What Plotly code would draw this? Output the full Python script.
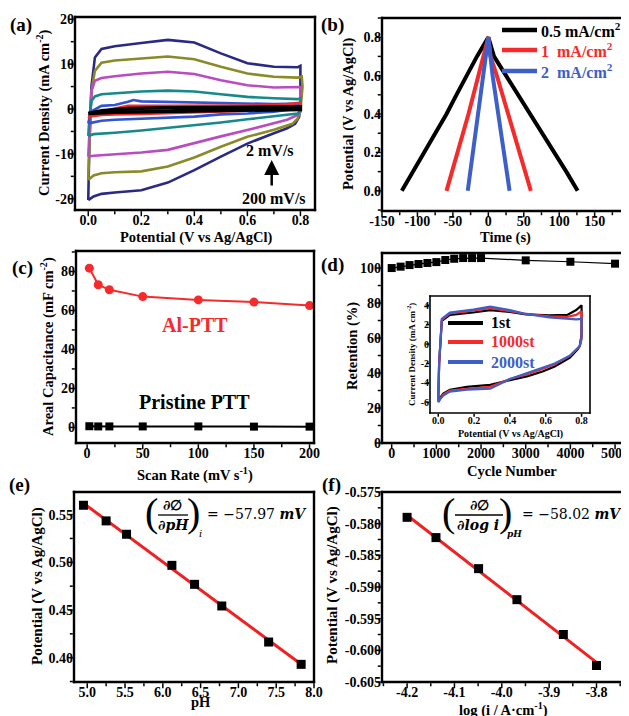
import numpy as np
import plotly.graph_objects as go

# screen geometry: the page body adds an 8 px offset, so the figure is drawn 8 px smaller
SW, SH = 629, 716
OFF = 8
W, H = SW - OFF, SH - OFF
FONT = "Liberation Serif"

# ---------------- (a) CV curves (closed loops: forward then reverse) ----------------
cv200_v = [0.0, 0.004, 0.012, 0.025, 0.05, 0.1, 0.2, 0.3, 0.4, 0.5, 0.6, 0.7, 0.79, 0.8,
           0.8, 0.795, 0.78, 0.75, 0.7, 0.6, 0.5, 0.4, 0.3, 0.2, 0.1, 0.05, 0.02, 0.005, 0.0]
cv200_i = [-20.3, -8.0, 5.0, 11.5, 13.4, 14.0, 14.7, 15.4, 14.8, 12.4, 10.2, 9.4, 9.3, 9.6,
           1.0, -1.8, -3.3, -4.3, -5.4, -7.7, -10.6, -13.6, -16.4, -18.1, -18.6, -18.9, -19.5, -20.0, -20.3]
cv150_v = [0.0, 0.005, 0.012, 0.025, 0.05, 0.1, 0.2, 0.3, 0.4, 0.5, 0.6, 0.7, 0.79, 0.805,
           0.808, 0.8, 0.79, 0.77, 0.7, 0.6, 0.5, 0.4, 0.3, 0.2, 0.1, 0.05, 0.02, 0.0]
cv150_i = [-15.8, -6.0, 4.0, 8.5, 10.3, 10.8, 11.3, 11.7, 11.1, 9.4, 7.9, 7.2, 7.0, 7.2,
           5.0, -0.3, -2.1, -3.3, -4.6, -6.2, -8.4, -10.8, -12.8, -13.9, -14.1, -14.3, -14.8, -15.8]
cv100_v = [0.0, 0.005, 0.012, 0.025, 0.05, 0.1, 0.2, 0.3, 0.4, 0.5, 0.6, 0.7, 0.79, 0.8,
           0.8, 0.79, 0.75, 0.7, 0.6, 0.5, 0.4, 0.3, 0.2, 0.1, 0.05, 0.02, 0.0]
cv100_i = [-10.6, -3.0, 4.0, 6.3, 6.9, 7.3, 7.9, 8.3, 7.8, 6.4, 5.3, 4.8, 4.8, 4.9,
           -0.6, -1.3, -2.4, -3.2, -4.7, -6.1, -7.6, -9.1, -9.7, -10.0, -10.2, -10.4, -10.6]
cv50_v = [0.0, 0.005, 0.012, 0.025, 0.05, 0.1, 0.2, 0.3, 0.4, 0.5, 0.6, 0.7, 0.79, 0.8,
          0.8, 0.79, 0.75, 0.7, 0.6, 0.5, 0.4, 0.3, 0.2, 0.1, 0.05, 0.02, 0.0]
cv50_i = [-6.0, -1.5, 1.8, 2.8, 3.3, 3.5, 3.9, 4.1, 3.9, 3.3, 2.7, 2.4, 2.2, 2.4,
          -0.4, -1.0, -1.3, -1.7, -2.3, -3.0, -3.6, -4.3, -4.8, -5.3, -5.4, -5.6, -6.0]
cv20_v = [0.0, 0.01, 0.05, 0.1, 0.15, 0.17, 0.2, 0.3, 0.4, 0.5, 0.6, 0.7, 0.8,
          0.8, 0.75, 0.7, 0.6, 0.5, 0.4, 0.3, 0.2, 0.1, 0.05, 0.0]
cv20_i = [-3.2, -0.6, 0.7, 0.9, 1.6, 2.0, 1.7, 1.6, 1.4, 1.4, 1.3, 1.1, 1.2,
          0.1, -0.2, -0.6, -1.0, -1.2, -1.7, -1.9, -2.1, -2.4, -2.6, -3.2]
cv10_v = [0.0, 0.02, 0.1, 0.15, 0.3, 0.5, 0.7, 0.8, 0.8, 0.7, 0.5, 0.3, 0.2, 0.1, 0.05, 0.0]
cv10_i = [-2.1, -1.0, 0.1, 0.7, 0.7, 0.7, 0.8, 1.4, 0.1, -0.2, -0.6, -1.0, -1.1, -1.2, -1.3, -1.7]
cv2_v = [0.0, 0.05, 0.15, 0.3, 0.5, 0.8, 0.8, 0.5, 0.3, 0.1, 0.0]
cv2_i = [-1.0, -0.4, 0.1, 0.3, 0.35, 0.5, -0.1, -0.4, -0.6, -0.7, -1.0]

# ---------------- (b) GCD curves ----------------
gcd05_t = [-122, -106, -90, -74, -59, -45, -31, -16, 0, 8, 25, 42, 60, 77, 94, 110, 126]
gcd05_v = [0.0, 0.1, 0.2, 0.3, 0.4, 0.5, 0.6, 0.7, 0.8, 0.7, 0.6, 0.5, 0.4, 0.3, 0.2, 0.1, 0.0]
gcd1_t = [-59, -43, -28, -14, 0, 3, 12, 28, 44, 60]
gcd1_v = [0.0, 0.2, 0.4, 0.6, 0.8, 0.7, 0.6, 0.4, 0.2, 0.0]
gcd2_t = [-29, -14, 0, 6, 14, 22, 30]
gcd2_v = [0.0, 0.4, 0.8, 0.6, 0.4, 0.2, 0.0]
gcd_labels = ["0.5 mA/cm<sup>2</sup>", "1\u00a0\u00a0mA/cm<sup>2</sup>", "2\u00a0\u00a0mA/cm<sup>2</sup>"]

# ---------------- (c) areal capacitance ----------------
scan_rate = [2, 10, 20, 50, 100, 150, 200]
cap_al_ptt = [81.7, 73.2, 70.6, 67.1, 65.4, 64.3, 62.5]
cap_pristine = [0.6, 0.5, 0.5, 0.5, 0.5, 0.4, 0.4]

# ---------------- (d) cycling retention + inset CV ----------------
cycle_no = [0, 200, 400, 600, 800, 1000, 1200, 1400, 1600, 1800, 2000, 3000, 4000, 5000]
retention = [100.0, 100.8, 101.7, 102.3, 102.9, 103.4, 104.6, 105.3, 105.7, 105.7, 105.7, 104.4, 103.6, 102.5]

ins_v = [0.0, 0.005, 0.02, 0.065, 0.195, 0.29, 0.4, 0.49, 0.62, 0.72, 0.77, 0.8,
         0.8, 0.79, 0.78, 0.735, 0.65, 0.586, 0.5, 0.4, 0.29, 0.16, 0.065, 0.028, 0.01, 0.0]
ins_1st = [-5.8, -2.0, 2.4, 3.0, 3.25, 3.5, 3.3, 3.05, 2.95, 3.0, 3.5, 4.0,
           1.0, -0.2, -0.5, -1.4, -2.3, -2.8, -3.3, -3.7, -4.2, -4.4, -4.7, -5.1, -5.5, -5.8]
ins_1000 = [-5.9, -2.0, 2.5, 3.15, 3.45, 3.7, 3.4, 3.1, 2.85, 2.8, 3.0, 3.4,
            0.8, -0.2, -0.4, -1.2, -2.1, -2.5, -3.1, -3.6, -4.4, -4.6, -4.8, -5.2, -5.6, -5.9]
ins_2000 = [-6.0, -2.0, 2.6, 3.25, 3.55, 3.85, 3.5, 3.1, 2.75, 2.6, 2.55, 2.6,
            0.5, -0.2, -0.4, -1.2, -2.0, -2.4, -3.0, -3.6, -4.6, -4.7, -4.9, -5.3, -5.7, -6.0]
ins_labels = ["1st", "1000st", "2000st"]

# ---------------- (e) potential vs pH ----------------
ph_vals = [4.95, 5.25, 5.52, 6.12, 6.42, 6.78, 7.40, 7.83]
pot_ph = [0.5598, 0.5434, 0.5294, 0.4968, 0.4769, 0.4542, 0.4164, 0.3930]

# ---------------- (f) potential vs log i ----------------
log_i = [-4.2, -4.139, -4.049, -3.968, -3.870, -3.8]
pot_logi = [-0.5790, -0.5822, -0.5871, -0.5920, -0.5975, -0.6024]

# tick values / labels (plain hyphens as in the original)
a_xvals = [0.0, 0.2, 0.4, 0.6, 0.8]
a_xtext = ["0.0", "0.2", "0.4", "0.6", "0.8"]
a_yvals = [-20, -10, 0, 10, 20]
a_ytext = ["-20", "-10", "0", "10", "20"]
b_xvals = [-150, -100, -50, 0, 50, 100, 150]
b_xtext = ["-150", "-100", "-50", "0", "50", "100", "150"]
b_yvals = [0.0, 0.2, 0.4, 0.6, 0.8]
b_ytext = ["0.0", "0.2", "0.4", "0.6", "0.8"]
c_xvals = [0, 50, 100, 150, 200]
c_yvals = [0, 20, 40, 60, 80]
d_xvals = [0, 1000, 2000, 3000, 4000, 5000]
d_yvals = [0, 20, 40, 60, 80, 100]
e_xvals = [5.0, 5.5, 6.0, 6.5, 7.0, 7.5, 8.0]
e_xtext = ["5.0", "5.5", "6.0", "6.5", "7.0", "7.5", "8.0"]
e_yvals = [0.40, 0.45, 0.50, 0.55]
e_ytext = ["0.40", "0.45", "0.50", "0.55"]
f_xvals = [-4.2, -4.1, -4.0, -3.9, -3.8]
f_xtext = ["-4.2", "-4.1", "-4.0", "-3.9", "-3.8"]
f_yvals = [-0.605, -0.600, -0.595, -0.590, -0.585, -0.580, -0.575]
f_ytext = ["-0.605", "-0.600", "-0.595", "-0.590", "-0.585", "-0.580", "-0.575"]
ins_xvals = [0.0, 0.2, 0.4, 0.6, 0.8]
ins_xtext = ["0.0", "0.2", "0.4", "0.6", "0.8"]
ins_yvals = [-6, -4, -2, 0, 2, 4]
ins_ytext = ["-6", "-4", "-2", "0", "2", "4"]

NAVY, OLIVE, MAGENTA, TEAL = "#2a2a86", "#8a8a28", "#b84cc0", "#18898a"
BLUE_A, RED, BLUE = "#2f55d4", "#f52a2a", "#3e5ec8"


def PX(sx):
    return (sx - OFF) / W


def PY(sy):
    return 1 - (sy - OFF) / H


fig = go.Figure()

# (a)
for v, i, c, w in [(cv200_v, cv200_i, NAVY, 2.6), (cv150_v, cv150_i, OLIVE, 2.6),
                   (cv100_v, cv100_i, MAGENTA, 2.6), (cv50_v, cv50_i, TEAL, 2.6),
                   (cv20_v, cv20_i, BLUE_A, 2.6), (cv10_v, cv10_i, RED, 2.6),
                   (cv2_v, cv2_i, "black", 3.5)]:
    fig.add_trace(go.Scatter(x=v, y=i, mode="lines", line=dict(color=c, width=w),
                             showlegend=False, xaxis="x", yaxis="y"))

# (b)
for t, v, c, name in [(gcd05_t, gcd05_v, "black", gcd_labels[0]),
                      (gcd1_t, gcd1_v, RED, gcd_labels[1]),
                      (gcd2_t, gcd2_v, BLUE, gcd_labels[2])]:
    fig.add_trace(go.Scatter(x=t, y=v, mode="lines", line=dict(color=c, width=4), name=name,
                             showlegend=False, xaxis="x2", yaxis="y2"))

# (c)
fig.add_trace(go.Scatter(x=scan_rate, y=cap_al_ptt, mode="lines+markers", name="Al-PTT",
                         line=dict(color=RED, width=2), marker=dict(symbol="circle", size=9, color=RED),
                         showlegend=False, xaxis="x3", yaxis="y3"))
fig.add_trace(go.Scatter(x=scan_rate, y=cap_pristine, mode="lines+markers", name="Pristine PTT",
                         line=dict(color="black", width=2), marker=dict(symbol="square", size=8, color="black"),
                         showlegend=False, xaxis="x3", yaxis="y3"))

# (d)
fig.add_trace(go.Scatter(x=cycle_no, y=retention, mode="lines+markers",
                         line=dict(color="black", width=1.2), marker=dict(symbol="square", size=8, color="black"),
                         showlegend=False, xaxis="x4", yaxis="y4"))
for y, c, name in [(ins_1st, "black", ins_labels[0]), (ins_1000, RED, ins_labels[1]),
                   (ins_2000, BLUE, ins_labels[2])]:
    fig.add_trace(go.Scatter(x=ins_v, y=y, mode="lines", line=dict(color=c, width=2.2), name=name,
                             showlegend=False, xaxis="x7", yaxis="y7"))

# (e)
ce = np.polyfit(ph_vals, pot_ph, 1)
fe_x = [ph_vals[0], ph_vals[-1]]
fig.add_trace(go.Scatter(x=fe_x, y=list(np.polyval(ce, fe_x)), mode="lines",
                         line=dict(color="#ee2222", width=3), showlegend=False, xaxis="x5", yaxis="y5"))
fig.add_trace(go.Scatter(x=ph_vals, y=pot_ph, mode="markers",
                         marker=dict(symbol="square", size=9, color="black"),
                         showlegend=False, xaxis="x5", yaxis="y5"))

# (f)
cf = np.polyfit(log_i, pot_logi, 1)
ff_x = [log_i[0], log_i[-1]]
fig.add_trace(go.Scatter(x=ff_x, y=list(np.polyval(cf, ff_x)), mode="lines",
                         line=dict(color="#ee2222", width=3), showlegend=False, xaxis="x6", yaxis="y6"))
fig.add_trace(go.Scatter(x=log_i, y=pot_logi, mode="markers",
                         marker=dict(symbol="square", size=9, color="black"),
                         showlegend=False, xaxis="x6", yaxis="y6"))

# panel boxes in screen pixels: (left, right, top, bottom)
BOX = {
    "1": (75, 315, 17, 210),
    "2": (382, 623, 18, 211),
    "3": (76, 314, 251, 443),
    "4": (382, 623, 253, 443),
    "5": (74, 314, 492, 682),
    "6": (382, 623, 492, 682),
    "7": (430, 590, 296, 413),
}


def ax(n, which, rng, vals, text, size=14):
    l, r, t, b = BOX[n]
    dom = [PX(l), PX(r)] if which == "x" else [PY(b), PY(t)]
    other = ("y" if which == "x" else "x") + ("" if n == "1" else n)
    return dict(domain=dom, range=rng, anchor=other, showline=False, mirror=False,
                ticks="", showgrid=False, zeroline=False, automargin=False,
                ticklabeloverflow="allow", tickmode="array", tickvals=vals, ticktext=text,
                tickfont=dict(family=FONT, size=size, color="black", weight="bold"))


txt = lambda vals: [str(v) for v in vals]
AX = {
    "xaxis": ax("1", "x", [-0.05, 0.855], a_xvals, a_xtext),
    "yaxis": ax("1", "y", [-22.5, 20.5], a_yvals, a_ytext),
    "xaxis2": ax("2", "x", [-150, 190], b_xvals, b_xtext),
    "yaxis2": ax("2", "y", [-0.105, 0.9], b_yvals, b_ytext),
    "xaxis3": ax("3", "x", [-10, 204], c_xvals, txt(c_xvals)),
    "yaxis3": ax("3", "y", [-8, 90.5], c_yvals, txt(c_yvals)),
    "xaxis4": ax("4", "x", [-217, 5178], d_xvals, txt(d_xvals)),
    "yaxis4": ax("4", "y", [0, 108.6], d_yvals, txt(d_yvals)),
    "xaxis5": ax("5", "x", [4.825, 8.0], e_xvals, e_xtext),
    "yaxis5": ax("5", "y", [0.3745, 0.5737], e_yvals, e_ytext),
    "xaxis6": ax("6", "x", [-4.253, -3.744], f_xvals, f_xtext),
    "yaxis6": ax("6", "y", [-0.605, -0.575], f_yvals, f_ytext),
    "xaxis7": ax("7", "x", [-0.046, 0.847], ins_xvals, ins_xtext, size=10),
    "yaxis7": ax("7", "y", [-7.1, 4.95], ins_yvals, ins_ytext, size=10),
}
fig.update_layout(width=W, height=H, margin=dict(l=0, r=0, t=0, b=0, autoexpand=False),
                  paper_bgcolor="white", plot_bgcolor="rgba(0,0,0,0)", showlegend=False,
                  font=dict(family=FONT, color="black"), **AX)

# minor tick steps per axis (None = no minor ticks)
MINOR = {"xaxis": 0.1, "yaxis": 5, "xaxis2": 25, "yaxis2": 0.1, "xaxis3": 25, "yaxis3": 10,
         "xaxis4": 500, "yaxis4": 10, "xaxis5": 0.25, "yaxis5": 0.025, "xaxis6": 0.05,
         "yaxis6": 0.0025, "xaxis7": None, "yaxis7": None}
TICKLEN = {"7": (3, 0)}


def seg(x0, y0, x1, y1, width, color="black"):
    """one straight segment, given in screen pixels"""
    fig.add_shape(type="line", xref="paper", yref="paper", x0=PX(x0), y0=PY(y0), x1=PX(x1), y1=PY(y1),
                  line=dict(color=color, width=width), layer="above")


# panel frames (four straight edges each) and tick marks (one segment per tick)
for n, (l, r, t, b) in BOX.items():
    sfx = "" if n == "1" else n
    bw = 1.6 if n == "7" else 2.4
    e = bw / 2
    seg(l - e, t, r + e, t, bw)
    seg(l - e, b, r + e, b, bw)
    seg(l, t - e, l, b + e, bw)
    seg(r, t - e, r, b + e, bw)
    major_len, minor_len = TICKLEN.get(n, (5, 3))
    for which in ("x", "y"):
        key = ("xaxis" if which == "x" else "yaxis") + sfx
        a = AX[key]
        r0, r1 = a["range"]
        lo, hi = min(r0, r1), max(r0, r1)
        major = [v for v in a["tickvals"] if lo <= v <= hi]
        step = MINOR[key]
        minor = []
        if step:
            k0 = int(np.ceil(lo / step - 1e-9))
            k1 = int(np.floor(hi / step + 1e-9))
            minor = [k * step for k in range(k0, k1 + 1)
                     if all(abs(k * step - m) > step * 1e-3 for m in major)]
        for vals, ln in ((major, major_len), (minor, minor_len)):
            if ln <= 0:
                continue
            for v in vals:
                if which == "x":
                    p = l + (v - r0) / (r1 - r0) * (r - l)
                    seg(p, b + e, p, b + e + ln, 1.5)
                else:
                    p = b - (v - r0) / (r1 - r0) * (b - t)
                    seg(l - e, p, l - e - ln, p, 1.5)


def ann(text, x, y, size=14.5, color="black", angle=0, xanchor="center", family=FONT, bold=True):
    t = f"<b>{text}</b>" if bold else text
    fig.add_annotation(text=t, x=PX(x), y=PY(y), xref="paper", yref="paper", showarrow=False,
                       textangle=angle, xanchor=xanchor, yanchor="middle",
                       font=dict(family=family, size=size, color=color))


# panel labels
for lab, x, y in [("(a)", 21, 25), ("(b)", 332, 25), ("(c)", 22, 268), ("(d)", 332, 265),
                  ("(e)", 19, 485), ("(f)", 331, 485)]:
    ann(lab, x, y, size=19)

# axis titles
ann("Potential (V vs Ag/AgCl)", 196, 238)
ann("Current Density (mA cm<sup>-2</sup>)", 43, 113, angle=-90)
ann("Time (s)", 505, 238)
ann("Potential (V vs Ag/AgCl)", 348, 114, angle=-90)
ann("Scan Rate (mV s<sup>-1</sup>)", 195, 475)
ann("Areal Capacitance (mF cm<sup>-2</sup>)", 47, 347, angle=-90)
ann("Cycle Number", 512, 471)
ann("Retention (%)", 352, 346, angle=-90)
ann("pH", 201, 702)
ann("Potential (V vs Ag/AgCl)", 37, 586, angle=-90, size=15)
ann("log (i / A·cm<sup>-1</sup>)", 503, 709)
ann("Potential (V vs Ag/AgCl)", 332, 585, angle=-90, size=15)
# inset titles
ann("Potential (V vs Ag/AgCl)", 510, 434, size=10)
ann("Current Density (mA cm<sup>-2</sup>)", 411, 355, size=9, angle=-90)

# (a) scan-rate annotation
ann("2 mV/s", 270, 150, size=16)
ann("200 mV/s", 274, 198, size=16)
fig.add_annotation(x=PX(271.7), y=PY(160), xref="paper", yref="paper", text="", showarrow=True,
                   ax=0, ay=27, arrowhead=2, arrowsize=1.2, arrowwidth=2.5, arrowcolor="black")

# (b) legend
for lab, c, y in zip(gcd_labels, ["black", RED, BLUE], [30, 50, 71]):
    seg(502, y, 537, y, 4.5, c)
    ann(lab, 539, y, size=16, color=c, xanchor="left")

# inset legend
for lab, c, y in zip(ins_labels, ["black", RED, BLUE], [323, 342, 362]):
    seg(448, y, 483, y, 4, c)
    ann(lab, 489, y, size=16, color=c, xanchor="left")

# (c) labels
ann("Al-PTT", 195, 325, size=20, color=RED)
ann("Pristine PTT", 194, 402, size=20)

# (e) derivative expression
MF = "DejaVu Serif"
ann("(", 151, 513, size=40, family=FONT, bold=False)
ann("∂∅", 172, 505, size=14, family=MF)
ann("∂<i>pH</i>", 173, 525, size=14, family=MF)
ann(")", 193, 513, size=40, family=FONT, bold=False)
ann("<i>i</i>", 200, 533, size=10, family=MF, bold=False)
ann("= −57.97 <b><i>mV</i></b>", 205, 514, size=14, family=MF, bold=False, xanchor="left")
seg(158, 515, 188, 515, 1.3)

# (f) derivative expression
ann("(", 448, 513, size=40, family=FONT, bold=False)
ann("∂∅", 479, 505, size=14, family=MF)
ann("∂<i>log i</i>", 478, 525, size=14, family=MF)
ann(")", 505, 513, size=40, family=FONT, bold=False)
ann("<i>pH</i>", 514, 534, size=9, family=MF)
ann("= −58.02 <b><i>mV</i></b>", 520, 514, size=14, family=MF, bold=False, xanchor="left")
seg(455, 515, 503, 515, 1.3)

fig.write_html("out.html")
